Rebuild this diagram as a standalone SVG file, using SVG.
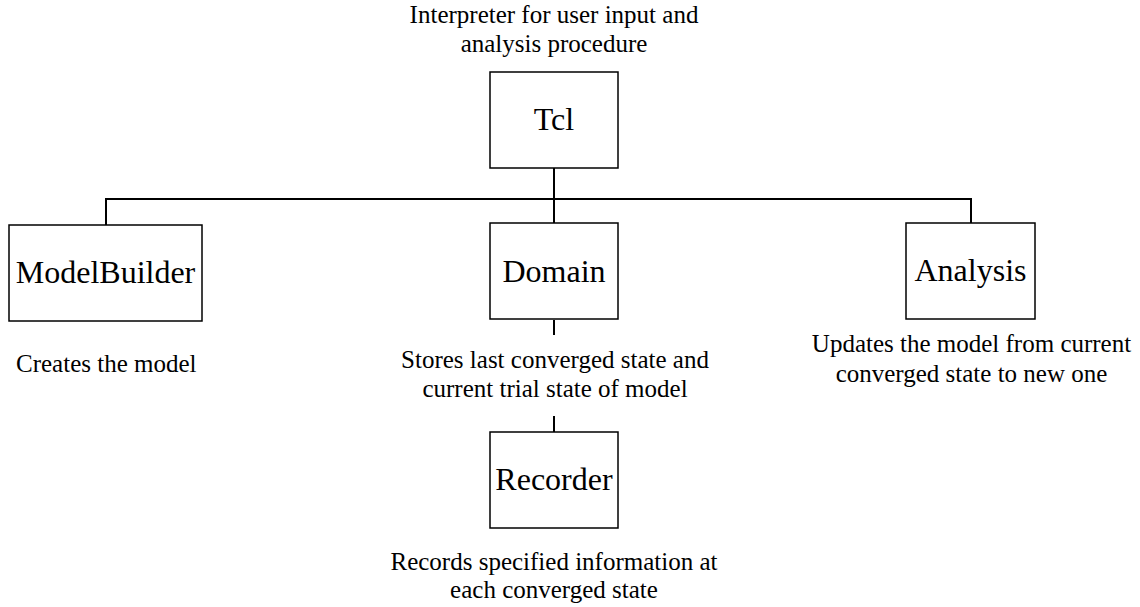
<svg xmlns="http://www.w3.org/2000/svg" width="1140" height="607" viewBox="0 0 1140 607">
<style>
.box{fill:#fff;stroke:#000;stroke-width:1.5}
.lbl{font-family:'Liberation Serif','DejaVu Serif',serif;font-size:32px;text-anchor:middle;fill:#000}
.desc{font-family:'Liberation Serif','DejaVu Serif',serif;font-size:25px;text-anchor:middle;fill:#000}
.conn{fill:none;stroke:#000;stroke-width:2}
</style>
<rect width="1140" height="607" fill="#fff"/>
<g id="connectors">
<path class="conn" d="M554 168 V199"/>
<path class="conn" d="M106 225 V199 H971 V223"/>
<path class="conn" d="M554 199 V223"/>
<path class="conn" d="M554 320 V335"/>
<path class="conn" d="M554 416 V432"/>
</g>
<g id="tcl">
<text class="desc" x="554" y="23">Interpreter for user input and</text>
<text class="desc" x="554" y="52">analysis procedure</text>
<rect class="box" x="490" y="72" width="128" height="96"/>
<text class="lbl" x="554" y="130">Tcl</text>
</g>
<g id="modelbuilder">
<rect class="box" x="9" y="225" width="193" height="96"/>
<text class="lbl" x="105.5" y="283">ModelBuilder</text>
<text class="desc" x="16" y="372" style="text-anchor:start">Creates the model</text>
</g>
<g id="domain">
<rect class="box" x="490" y="223" width="128" height="96"/>
<text class="lbl" x="554" y="282">Domain</text>
<text class="desc" x="555" y="368">Stores last converged state and</text>
<text class="desc" x="555" y="397">current trial state of model</text>
</g>
<g id="analysis">
<rect class="box" x="906" y="223" width="129" height="96"/>
<text class="lbl" x="970.5" y="281">Analysis</text>
<text class="desc" x="971.5" y="352">Updates the model from current</text>
<text class="desc" x="971.5" y="382">converged state to new one</text>
</g>
<g id="recorder">
<rect class="box" x="490" y="432" width="128" height="96"/>
<text class="lbl" x="554" y="490">Recorder</text>
<text class="desc" x="554" y="570">Records specified information at</text>
<text class="desc" x="554" y="598">each converged state</text>
</g>
</svg>
